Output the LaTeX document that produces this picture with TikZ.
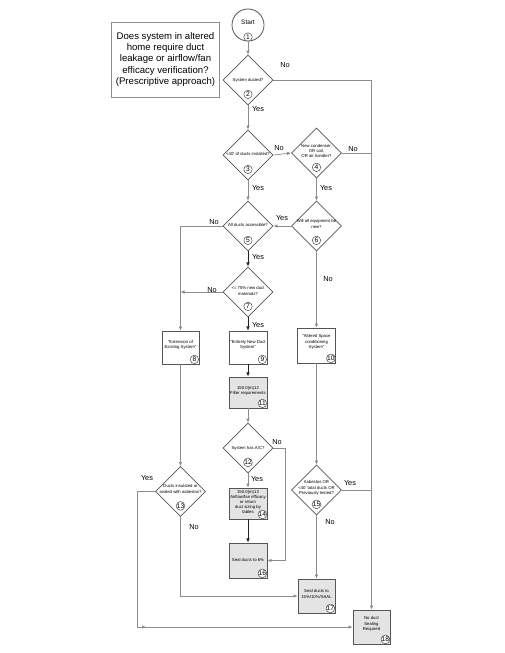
\documentclass[tikz,border=0pt]{standalone}
\usepackage{fontspec}
\setmainfont{Liberation Sans}
\usetikzlibrary{shapes.geometric,arrows.meta,calc}
\definecolor{ln}{HTML}{8C8C8C}
\definecolor{dk}{HTML}{222222}
\definecolor{bd}{HTML}{555555}
\definecolor{fl}{HTML}{E4E4E4}
\begin{document}
\begin{tikzpicture}[x=0.75pt,y=-0.75pt,
  conn/.style={draw=ln, line width=0.55pt},
  arr/.style={conn, -{Latex[length=3pt,width=2.6pt]}},
  barr/.style={draw=dk, line width=0.7pt, -{Latex[length=3.2pt,width=2.8pt]}},
  dia/.style={diamond, draw=bd, line width=0.6pt, fill=white, inner sep=0pt, minimum width=37.5pt, minimum height=37.5pt},
  wbox/.style={rectangle, draw=bd, line width=0.6pt, fill=white, inner sep=0pt, minimum width=28.5pt},
  gbox/.style={wbox, fill=fl},
  tiny/.style={font=\fontsize{3.2}{3.9}\selectfont, align=center, inner sep=0pt},
  cnum/.style={circle, draw=bd, line width=0.4pt, fill=white, inner sep=0pt, minimum size=6.3pt, font=\fontsize{5}{5.5}\selectfont},
  lbl/.style={font=\fontsize{5.5}{6}\selectfont, inner sep=0pt},
]
\useasboundingbox (0,0) rectangle (504,653);

% title
\node[rectangle, draw=ln, line width=0.6pt, minimum width=78.75pt, minimum height=56.25pt,
      align=center, font=\fontsize{7.2}{8.4}\selectfont] (title) at (165.5,59.5)
  {Does system in altered\\home require duct\\leakage or airflow/fan\\efficacy verification?\\(Prescriptive approach)};

% nodes
\node[circle, draw=bd, line width=0.6pt, minimum size=24pt, inner sep=0pt] (n1) at (248,25) {};
\node[lbl, font=\fontsize{4.8}{5}\selectfont] (t1) at (248,22) {Start};
\node[dia] (n2) at (248,80) {};
\node[dia] (n3) at (248,155) {};
\node[dia] (n4) at (316.5,153) {};
\node[dia] (n5) at (248,226) {};
\node[dia] (n6) at (316.5,226) {};
\node[dia] (n7) at (248,292) {};
\node[wbox, minimum width=27.75pt, minimum height=24.75pt] (n8) at (180.5,347.5) {};
\node[wbox, minimum height=24.75pt] (n9) at (248,347.5) {};
\node[wbox, minimum height=26.25pt] (n10) at (316.5,345.5) {};
\node[gbox, minimum height=23.25pt] (n11) at (248,392.5) {};
\node[dia] (n12) at (248,448) {};
\node[dia] (n13) at (180.5,491.5) {};
\node[gbox, minimum height=23.25pt] (n14) at (248,503.5) {};
\node[dia] (n15) at (316.5,490) {};
\node[gbox, minimum height=26.25pt] (n16) at (248,560.5) {};
\node[gbox, minimum width=27.75pt, minimum height=25.5pt] (n17) at (316.5,596) {};
\node[gbox, minimum width=27.75pt, minimum height=25.5pt] (n18) at (371.5,627) {};

% texts
\node[tiny] (d2) at (248,80) {System ducted?};
\node[tiny] (d3) at (248,154) {<40' of ducts installed?};
\node[tiny] (d4) at (316.5,151) {New condenser,\\OR coil,\\OR air handler?};
\node[tiny] (d5) at (248,225) {All ducts accessible?};
\node[tiny] (d6) at (316.5,224) {Will all equipment be\\new?};
\node[tiny] (d7) at (248,291) {<= 75\% new duct\\materials?};
\node[tiny] (b8) at (180.5,345) {“Extension of\\Existing System”};
\node[tiny] (b9) at (248,345) {“Entirely New Duct\\System”};
\node[tiny] (b10) at (316.5,342) {“Altered Space\\conditioning\\System”};
\node[tiny] (b11) at (248,391) {150.0(m)12\\Filter requirements};
\node[tiny] (d12) at (248,448) {System has A/C?};
\node[tiny] (d13) at (180.5,489) {Ducts insulated or\\sealed with asbestos?};
\node[tiny] (b14) at (248,502) {150.0(m)13\\Airflow/fan efficacy\\or return\\duct sizing by\\tables};
\node[tiny] (d15) at (316.5,488) {Asbestos OR\\<40' total ducts OR\\Previously tested?};
\node[tiny] (b16) at (248,560) {Seal ducts to 6\%};
\node[tiny] (b17) at (316.5,594) {Seal ducts to\\15\%/10\%/SAAL};
\node[tiny] (b18) at (371.5,624) {No duct\\Sealing\\Required};

% circled numbers
\node[cnum] (k1) at (248,37) {1};
\node[cnum] (k2) at ($(n2.south)+(0,-11)$) {2};
\node[cnum] (k3) at ($(n3.south)+(0,-11)$) {3};
\node[cnum] (k4) at ($(n4.south)+(0,-11)$) {4};
\node[cnum] (k5) at ($(n5.south)+(0,-11)$) {5};
\node[cnum] (k6) at ($(n6.south)+(0,-11)$) {6};
\node[cnum] (k7) at ($(n7.south)+(0,-11)$) {7};
\node[cnum] (k12) at ($(n12.south)+(0,-11)$) {12};
\node[cnum] (k13) at ($(n13.south)+(0,-11)$) {13};
\node[cnum] (k15) at ($(n15.south)+(0,-11)$) {15};
\node[cnum] (k8) at ($(n8.south east)+(-5,-5)$) {8};
\node[cnum] (k9) at ($(n9.south east)+(-5,-5)$) {9};
\node[cnum] (k10) at ($(n10.south east)+(-5,-5)$) {10};
\node[cnum] (k11) at ($(n11.south east)+(-5,-5)$) {11};
\node[cnum] (k14) at ($(n14.south east)+(-5,-5)$) {14};
\node[cnum] (k16) at ($(n16.south east)+(-5,-5)$) {16};
\node[cnum] (k17) at ($(n17.south east)+(-5,-5)$) {17};
\node[cnum] (k18) at ($(n18.south east)+(-5,-5)$) {18};

% connectors
\draw[arr] (n1) -- (n2);
\draw[arr] (n2.east) -| (n18.north);
\draw[arr] (n2) -- (n3);
\draw[arr] (n3.east) -- (n4.west);
\draw[conn] (n4.east) -- (n4.east -| n18.north);
\draw[arr] (n3) -- (n5);
\draw[arr] (n4) -- (n6);
\draw[arr] (n6.west) -- (n5.east);
\draw[arr] (n6) -- (n10);
\draw[arr] (n5.west) -| (n8.north);
\draw[barr] (n5) -- (n7);
\draw[arr] (n7.west) -- (n7.west -| n8.north);
\draw[barr] (n7) -- (n9);
\draw[barr] (n9) -- (n11);
\draw[arr] (n11) -- (n12);
\coordinate (c12) at (285,448);
\draw[arr] (n12.east) -- (c12) |- (n16.east);
\draw[arr] (n12) -- (n14);
\draw[barr] (n14) -- (n16);
\draw[arr] (n8) -- (n13);
\coordinate (c13) at (137,627);
\draw[arr] (n13.west) -| (c13) -- (n18.west);
\draw[arr] (c13) -- ++(9,0);
\draw[arr] (n13.south) |- (n17.west);
\draw[arr] (n10) -- (n15);
\draw[conn] (n15.east) -- (n15.east -| n18.north);
\draw[arr] (n15) -- (n17);

% labels
\node[lbl] (l1) at (285,65) {No};
\node[lbl] (l2) at (258,109) {Yes};
\node[lbl] (l3) at (279,148) {No};
\node[lbl] (l4) at (353,149) {No};
\node[lbl] (l5) at (258,188) {Yes};
\node[lbl] (l6) at (326,188) {Yes};
\node[lbl] (l7) at (282,218) {Yes};
\node[lbl] (l8) at (214,222) {No};
\node[lbl] (l9) at (258,257) {Yes};
\node[lbl] (l10) at (212,290) {No};
\node[lbl] (l11) at (258,325) {Yes};
\node[lbl] (l12) at (328,279) {No};
\node[lbl] (l13) at (277,442) {No};
\node[lbl] (l14) at (257,479) {Yes};
\node[lbl] (l15) at (147,478) {Yes};
\node[lbl] (l16) at (194,527) {No};
\node[lbl] (l17) at (350,483) {Yes};
\node[lbl] (l18) at (330,522) {No};
\end{tikzpicture}
\end{document}
